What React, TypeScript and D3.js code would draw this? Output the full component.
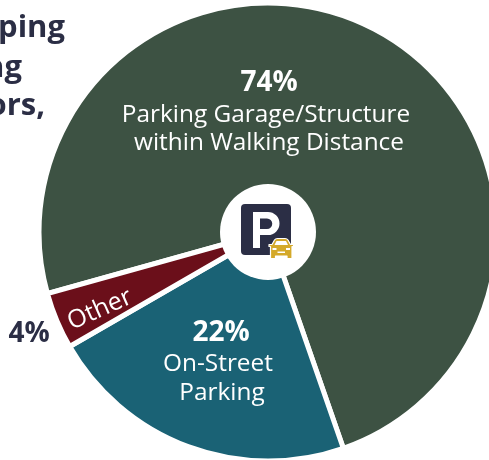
import React from "react";
import * as d3 from "d3";

const labels = ["Parking Garage/Structure within Walking Distance", "On-Street Parking", "Other"];
const values = [74, 22, 4];
const colors = ["#3d5243", "#1a6275", "#6b0f1a"];
const startDeg = 160.8 - 266.4;
const titleLines = ["ping", "ng", "ors,"];

const cx = 268, cy = 232, R = 229;
const font = "'Open Sans', sans-serif";
const navy = "#2b2e45";

export default function App() {
  const pie = d3.pie<number>().sort(null).startAngle((startDeg * Math.PI) / 180).endAngle(((startDeg + 360) * Math.PI) / 180);
  const arc = d3.arc<d3.PieArcDatum<number>>().innerRadius(0).outerRadius(R);
  const arcs = pie(values);
  return (
    <svg width={489} height={460} style={{ position: "fixed", left: 0, top: 0 }} fontFamily={font}>
      <g transform={`translate(${cx},${cy})`}>
        {arcs.map((a, i) => (
          <path key={labels[i]} d={arc(a) ?? ""} fill={colors[i]} stroke="#fff" strokeWidth={5} />
        ))}
        <circle r={48} fill="#fff" />
      </g>
      {titleLines.map((t, i) => (
        <text key={t} x={[65, 22, 45][i]} y={[37, 77, 115][i]} textAnchor="end" fontSize={31} fontWeight={700} fill={navy}>{t}</text>
      ))}
      <g fill="#fff" textAnchor="middle">
        <text x={269} y={91} fontSize={28} fontWeight={700}>74%</text>
        <text x={266} y={122} fontSize={24.400}>Parking Garage/Structure</text>
        <text x={269} y={150} fontSize={24.400}>within Walking Distance</text>
        <text x={221} y={341} fontSize={28} fontWeight={700}>22%</text>
        <text x={218} y={371} fontSize={24.400}>On-Street</text>
        <text x={222} y={400} fontSize={24.400}>Parking</text>
        <text transform="translate(100,310) rotate(-24)" fontSize={25} dominantBaseline="middle">Other</text>
      </g>
      <text x={29} y={342} textAnchor="middle" fontSize={28} fontWeight={700} fill={navy}>4%</text>
      <g>
        <rect x={241} y={204} width={50} height={51} rx={4} fill={navy} />
        <path d="M253 248 V212 H268 A11.500 11.500 0 0 1 268 235 H260 V248 Z M260 218.500 V229 H267 A5.250 5.250 0 0 0 267 218.500 Z" fill="#fff" fillRule="evenodd" />
        <path d="M272 244.500 L274.500 240 Q275.500 238.500 277.500 238.500 H285 Q287 238.500 288 240 L290.500 244.500 H293.500 V246.500 H292 V258.500 H287 V256 H275.500 V258.500 H270.500 V246.500 H269 V244.500 Z" fill="#d4a92a" stroke="#fff" strokeWidth={1.200} strokeLinejoin="round" />
        <path d="M274.500 245 L276.500 241 H286 L288 245 Z" fill="#fff" />
        <rect x={272.500} y={248} width={4} height={2} fill="#fff" />
        <rect x={286} y={248} width={4} height={2} fill="#fff" />
        <rect x={277.500} y={251.500} width={7.500} height={1.500} fill="#fff" />
      </g>
    </svg>
  );
}
